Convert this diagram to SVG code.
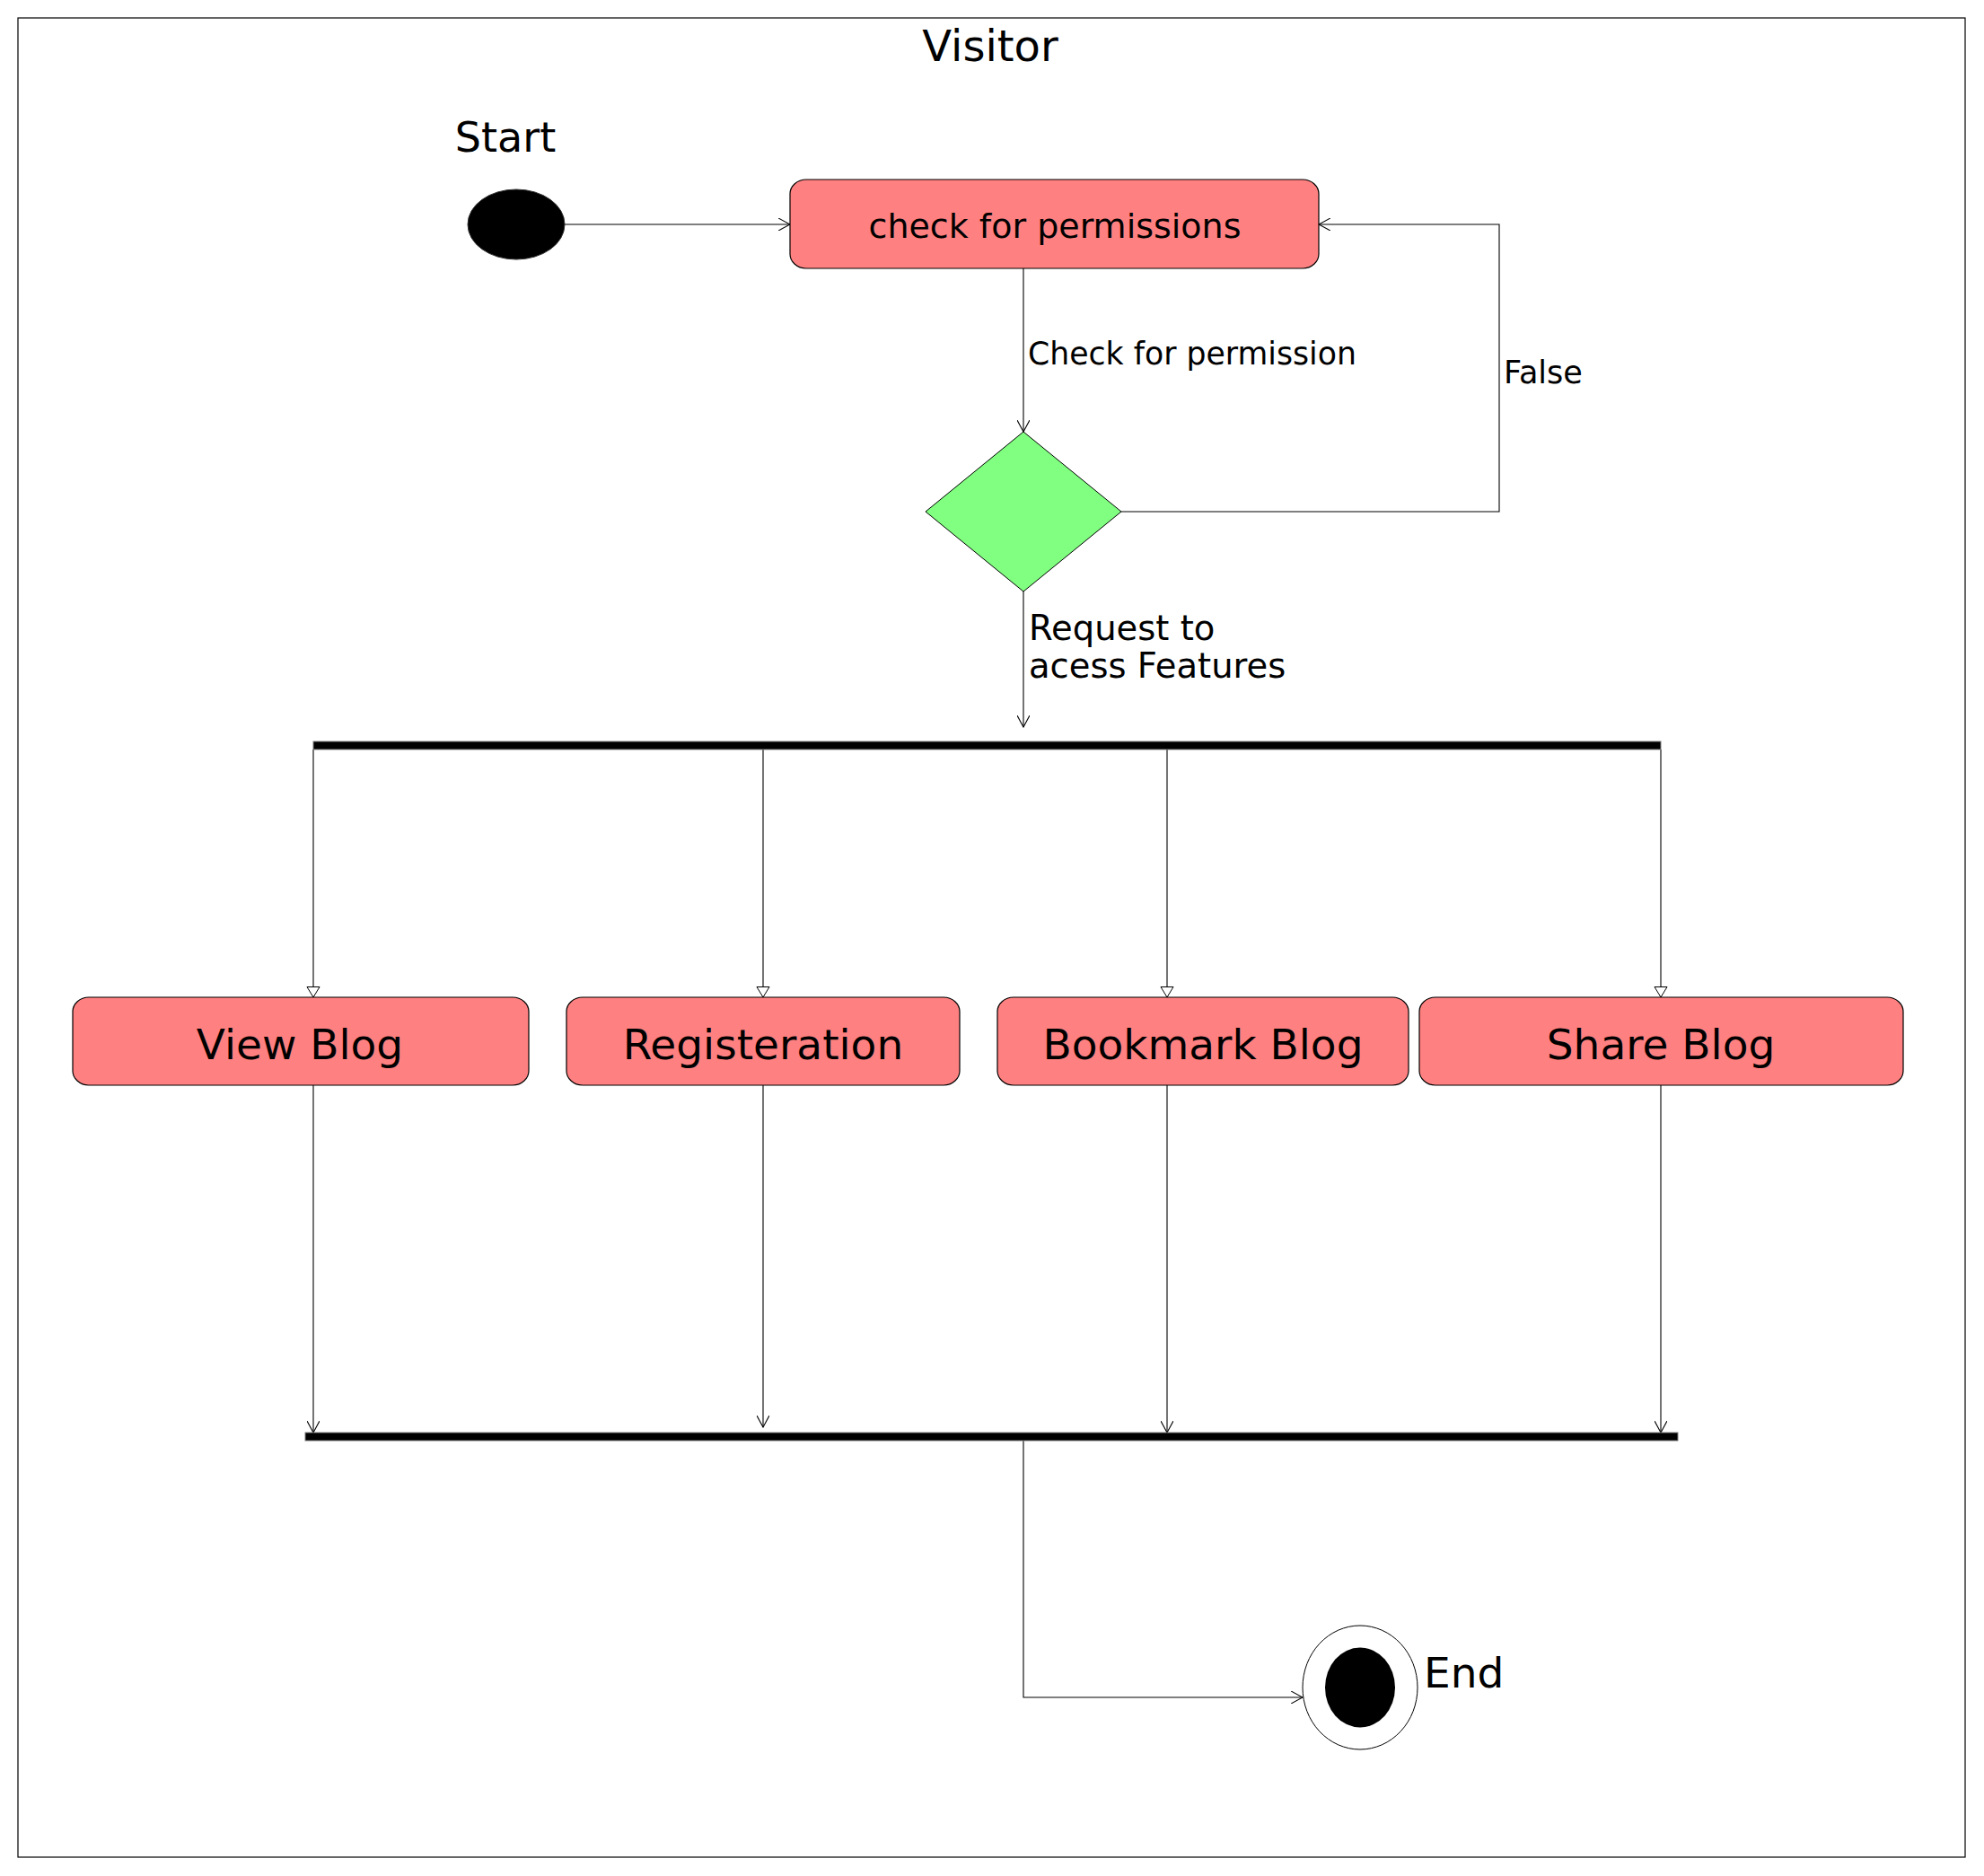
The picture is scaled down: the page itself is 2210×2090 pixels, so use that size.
<svg xmlns="http://www.w3.org/2000/svg" width="2210" height="2090" viewBox="0 0 2210 2090">
<style>
text{font-family:"DejaVu Sans","Liberation Sans",sans-serif;fill:#000}
.act{fill:#FF8080;stroke:#000;stroke-width:1.2}
.lbl{font-size:47px;text-anchor:middle}
.edge{fill:none;stroke:#000;stroke-width:1.1}
.open{marker-end:url(#open)}
.tri{marker-end:url(#tri)}
.bar{fill:#000;stroke:#808080;stroke-width:1}
</style>
<defs>
<marker id="open" viewBox="0 0 14 14" refX="13" refY="7" markerWidth="14" markerHeight="14" markerUnits="userSpaceOnUse" orient="auto">
<path d="M0,0 L13,7 L0,14" fill="none" stroke="#000" stroke-width="1.1"/>
</marker>
<marker id="tri" viewBox="0 0 13 16" refX="12" refY="8" markerWidth="13" markerHeight="16" markerUnits="userSpaceOnUse" orient="auto">
<path d="M0.5,1 L12,8 L0.5,15 Z" fill="#fff" stroke="#000" stroke-width="1"/>
</marker>
</defs>
<rect width="2210" height="2090" fill="#fff"/>
<g id="frame">
<rect x="20" y="20" width="2169" height="2049" fill="none" stroke="#000" stroke-width="1.2"/>
<text x="1103" y="68" font-size="48" text-anchor="middle">Visitor</text>
</g>
<g id="connectors">
<path class="edge open" d="M629,250 H880"/>
<path class="edge open" d="M1140,299 V481"/>
<path class="edge open" d="M1249,570 H1670 V250 H1469"/>
<path class="edge open" d="M1140,659 V810"/>
<path class="edge tri" d="M349,835 V1111"/>
<path class="edge tri" d="M850,835 V1111"/>
<path class="edge tri" d="M1300,835 V1111"/>
<path class="edge tri" d="M1850,835 V1111"/>
<path class="edge open" d="M349,1209 V1596"/>
<path class="edge open" d="M850,1200 V1590"/>
<path class="edge open" d="M1300,1209 V1596"/>
<path class="edge open" d="M1850,1209 V1596"/>
<path class="edge open" d="M1140,1605 V1891 H1451"/>
<text x="1145" y="406" font-size="34.7">Check for permission</text>
<text x="1675" y="427" font-size="35">False</text>
<text x="1146" y="713" font-size="38.5">Request to</text>
<text x="1146" y="755" font-size="38.5">acess Features</text>
</g>
<g id="start">
<ellipse cx="575" cy="250" rx="54" ry="39" fill="#000" stroke="#333" stroke-width="1"/>
<text x="563" y="169" font-size="46" text-anchor="middle">Start</text>
</g>
<g id="check">
<rect class="act" x="880" y="200" width="589" height="99" rx="18" ry="16"/>
<text x="1175" y="265" font-size="38" text-anchor="middle">check for permissions</text>
</g>
<g id="decision">
<polygon points="1140,481 1249,570 1140,659 1031,570" fill="#80FF80" stroke="#000" stroke-width="1"/>
</g>
<g id="fork">
<rect class="bar" x="349" y="826" width="1501" height="9"/>
</g>
<g id="viewblog">
<rect class="act" x="81" y="1111" width="508" height="98" rx="18" ry="16"/>
<text class="lbl" x="334" y="1180">View Blog</text>
</g>
<g id="registeration">
<rect class="act" x="631" y="1111" width="438" height="98" rx="18" ry="16"/>
<text class="lbl" x="850" y="1180">Registeration</text>
</g>
<g id="bookmark">
<rect class="act" x="1111" y="1111" width="458" height="98" rx="18" ry="16"/>
<text class="lbl" x="1340" y="1180">Bookmark Blog</text>
</g>
<g id="share">
<rect class="act" x="1581" y="1111" width="539" height="98" rx="18" ry="16"/>
<text class="lbl" x="1850" y="1180">Share Blog</text>
</g>
<g id="join">
<rect class="bar" x="340" y="1596" width="1529" height="9"/>
</g>
<g id="end">
<ellipse cx="1515" cy="1880" rx="64" ry="69" fill="#fff" stroke="#000" stroke-width="1"/>
<ellipse cx="1515" cy="1880" rx="39" ry="44.5" fill="#000"/>
<text x="1586" y="1880" font-size="47">End</text>
</g>
</svg>
